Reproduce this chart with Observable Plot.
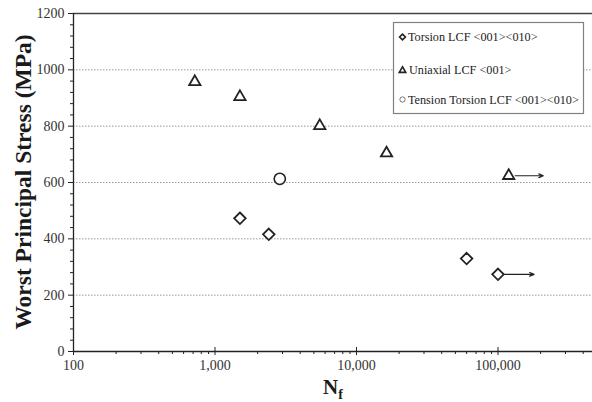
<!DOCTYPE html>
<html><head><meta charset="utf-8">
<script src="https://cdn.jsdelivr.net/npm/d3@7"></script>
<script src="https://cdn.jsdelivr.net/npm/@observablehq/plot@0.6"></script>
<style>body{margin:0;background:#fff}</style>
</head><body><div id="chart"></div>
<script>
// Data
const torsionN = [1500, 2400, 60000, 100000];
const torsionS = [473, 416, 330, 274];
const uniaxialN = [720, 1500, 5500, 16300, 119000];
const uniaxialS = [957, 904, 801, 704, 624];
const tensionTorsionN = [2870];
const tensionTorsionS = [613];
// run-out arrows (start N, end N, stress)
const runoutFrom = [100000, 119000];
const runoutTo = [180000, 209000];
const runoutS = [274, 624];
const seriesNames = ["Torsion LCF <001><010>", "Uniaxial LCF <001>", "Tension Torsion LCF <001><010>"];
const xTicks = [100, 1000, 10000, 100000];
const yTicks = [0, 200, 400, 600, 800, 1000, 1200];
const gridTicks = [200, 400, 600, 800, 1000];

const W = 592, H = 402, mL = 73, mT = 13, mB = 51;
const xMax = 10 ** (2 + (W - mL) / 141.5);
const xMinor = [];
for (const d of xTicks) for (let k = 2; k <= 9; k++) if (d * k < xMax) xMinor.push(d * k);
const yMinor = d3.range(40, 1200, 40).filter(v => v % 200 !== 0);

const torsion = torsionN.map((n, i) => ({n, s: torsionS[i]}));
const uniaxial = uniaxialN.map((n, i) => ({n, s: uniaxialS[i]}));
const tension = tensionTorsionN.map((n, i) => ({n, s: tensionTorsionS[i]}));
const runouts = runoutFrom.map((n, i) => ({n1: n, n2: runoutTo[i], s: runoutS[i]}));

const ink = "#222";
const svg = Plot.plot({
  width: W, height: H,
  marginLeft: mL, marginRight: 0, marginTop: mT, marginBottom: mB,
  style: {fontFamily: "Liberation Serif", fontSize: "14px", color: "#333", background: "white", overflow: "visible"},
  x: {type: "log", domain: [100, xMax]},
  y: {domain: [0, 1200]},
  marks: [
    Plot.gridY(gridTicks, {stroke: "#9a9a9a", strokeOpacity: 1, strokeDasharray: "1.5,1.5"}),
    Plot.ruleY([1200], {stroke: "#444", strokeWidth: 1.6}),
    Plot.ruleY([0], {stroke: ink, strokeWidth: 1.3}),
    Plot.ruleX([100], {stroke: ink, strokeWidth: 1.3}),
    Plot.axisY({ticks: yTicks, tickFormat: d => String(d), tickSize: 5, tickPadding: 4, label: null, stroke: ink}),
    Plot.axisY({ticks: yMinor, tickSize: 3, text: null, label: null, stroke: ink}),
    Plot.axisX({ticks: xTicks, tickFormat: d3.format(","), tickSize: 4, tickPadding: 5, label: null, stroke: ink}),
    Plot.axisX({ticks: xTicks, tickSize: -4, text: null, label: null, stroke: ink}),
    Plot.axisX({ticks: xMinor, tickSize: 3, text: null, label: null, stroke: ink}),
    Plot.arrow(runouts, {x1: "n1", x2: "n2", y1: "s", y2: "s", insetStart: 6.5, headLength: 6, headAngle: 45, stroke: ink, strokeWidth: 1.2}),
    Plot.dot(torsion, {x: "n", y: "s", symbol: "diamond2", r: 5.2, stroke: ink, strokeWidth: 1.8, fill: "white"}),
    Plot.dot(uniaxial, {x: "n", y: "s", symbol: "triangle2", r: 5.4, stroke: ink, strokeWidth: 1.8, fill: "white"}),
    Plot.dot(tension, {x: "n", y: "s", symbol: "circle", r: 5.6, stroke: ink, strokeWidth: 1.6, fill: "white"})
  ]
});
document.getElementById("chart").appendChild(svg);

const s = d3.select(svg);
// Axis titles
s.append("text")
  .attr("transform", "translate(23,182) rotate(-90)")
  .attr("text-anchor", "middle").attr("dy", "0.35em")
  .attr("font-family", "Liberation Serif").attr("font-weight", "bold")
  .attr("font-size", 23.5).attr("fill", "#1a1a1a")
  .text("Worst Principal Stress (MPa)");
const xl = s.append("text")
  .attr("x", 333).attr("y", 394).attr("text-anchor", "middle")
  .attr("font-family", "Liberation Serif").attr("font-weight", "bold")
  .attr("font-size", 21).attr("fill", "#1a1a1a");
xl.append("tspan").text("N");
xl.append("tspan").attr("font-size", 14).attr("dy", 5).text("f");

// Legend
const lg = s.append("g");
lg.append("rect").attr("x", 393.5).attr("y", 22.5).attr("width", 190).attr("height", 91)
  .attr("fill", "white").attr("stroke", "#808080").attr("stroke-width", 1.2);
const rowsY = [37, 69.5, 99.5];
const syms = [d3.symbolDiamond2, d3.symbolTriangle2, d3.symbolCircle];
const sizes = [22, 30, 22];
const sw = [1.6, 1.6, 0.8];
const sc = [ink, ink, "#555"];
seriesNames.forEach((name, i) => {
  lg.append("path").attr("d", d3.symbol(syms[i], sizes[i])())
    .attr("transform", `translate(402.5,${rowsY[i] + (i === 1 ? 1 : 0)})`)
    .attr("fill", "white").attr("stroke", sc[i]).attr("stroke-width", sw[i]);
  lg.append("text").attr("x", i === 1 ? 409 : 408).attr("y", rowsY[i]).attr("dy", "0.35em")
    .attr("text-anchor", "start")
    .attr("font-family", "Liberation Serif").attr("font-size", 12.2).attr("fill", "#222")
    .text(name);
});
</script>
</body></html>
